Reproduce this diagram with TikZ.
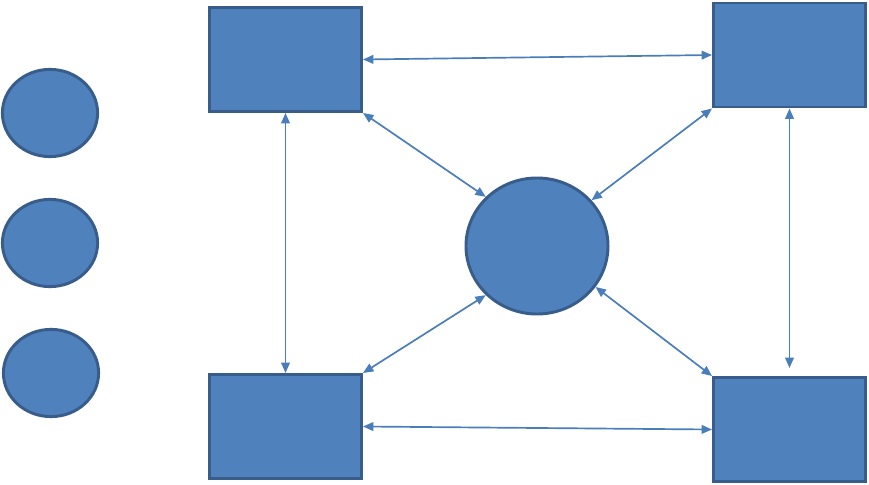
\documentclass[tikz,border=0pt]{standalone}
\usepackage{tikz}
\usetikzlibrary{arrows.meta, shapes.geometric}
\definecolor{boxfill}{RGB}{79, 129, 189}
\definecolor{boxline}{RGB}{56, 93, 138}
\definecolor{linkblue}{RGB}{74, 126, 187}

\begin{document}
\begin{tikzpicture}[x=0.025cm, y=-0.025cm,
    >={Triangle[length=7.4pt, width=6.2pt]},
    server/.style={
        draw=boxline, line width=2.1pt, fill=boxfill,
        minimum width=3.8cm, minimum height=2.6cm, inner sep=0pt
    },
    hub/.style={
        ellipse, draw=boxline, line width=2.1pt, fill=boxfill,
        minimum width=3.55cm, minimum height=3.4cm, inner sep=0pt
    },
    token/.style={
        ellipse, draw=boxline, line width=2.1pt, fill=boxfill,
        minimum width=2.38cm, minimum height=2.18cm, inner sep=0pt
    },
    link/.style={<->, linkblue, line width=1.2pt},
]

% --- Marco ---
\useasboundingbox (0,0) rectangle (869,485);

% --- Coordenadas ---
\def\xl{285.5}
\def\xr{789.5}

% --- Elementos de la izquierda ---
\node[token] (T1) at (50, 113) {};
\node[token] (T2) at (50, 243) {};
\node[token] (T3) at (51, 373) {};

% --- Cajas y nodo central ---
\node[server] (TL) at (\xl, 59.5) {};
\node[server] (TR) at (\xr, 55) {};
\node[server] (BL) at (\xl, 426.5) {};
\node[server] (BR) at (\xr, 429.5) {};
\node[hub] (C) at (537, 246) {};

\coordinate (br_top) at (\xr, 368);

% --- Enlaces ---
\draw[link] (TL.east) -- (TR.west);
\draw[link] (BL.east) -- (BR.west);
\draw[link] (TL.south) -- (BL.north);
\draw[link] (TR.south) -- (br_top);
\draw[link] (TL.south east) -- (C.north west);
\draw[link] (TR.south west) -- (C.40);
\draw[link] (BL.north east) -- (C.south west);
\draw[link] (BR.north west) -- (C.-35);

\end{tikzpicture}
\end{document}
